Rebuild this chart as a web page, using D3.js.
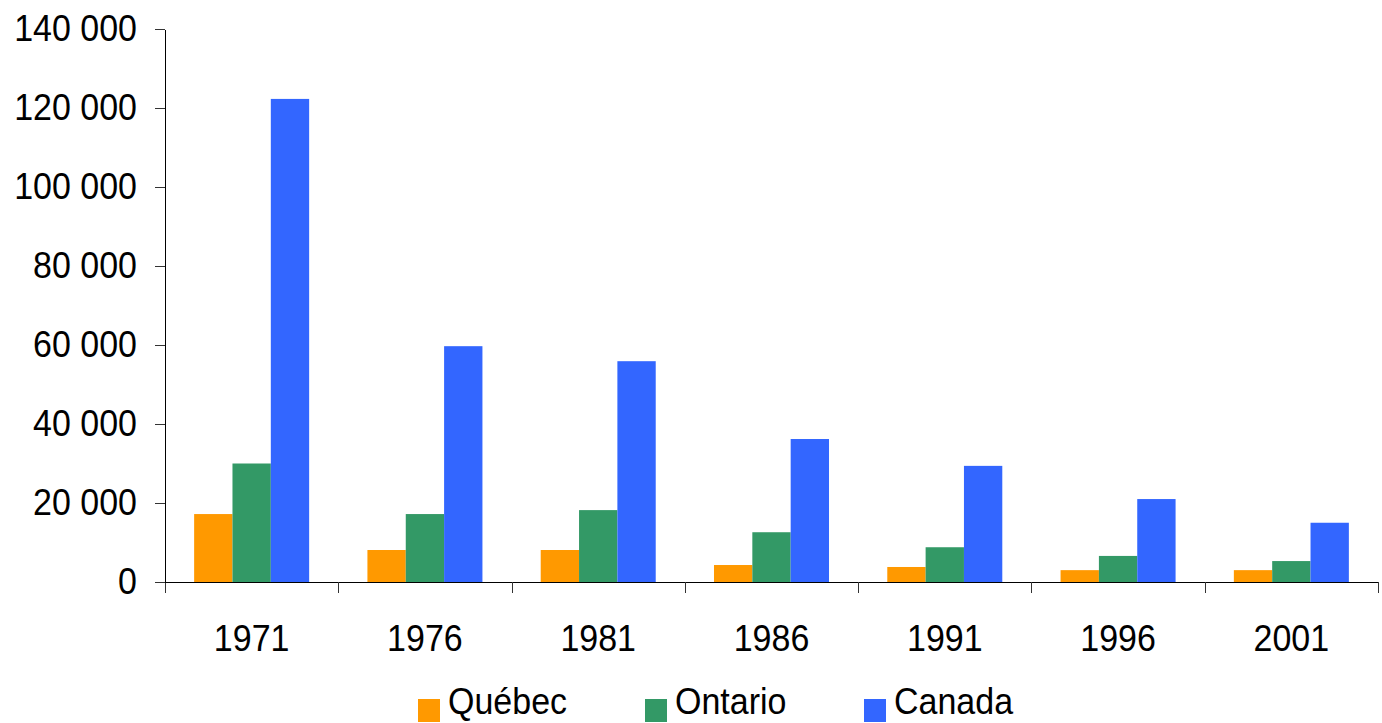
<!DOCTYPE html>
<html>
<head>
<meta charset="utf-8">
<script src="https://cdn.jsdelivr.net/npm/d3@7"></script>
<style>
  body { margin: 0; background: #fff; }
  text { font-family: "Liberation Sans", Arial, sans-serif; fill: #000; }
</style>
</head>
<body>
<div id="d3-container"></div>
<script>
const years = ["1971", "1976", "1981", "1986", "1991", "1996", "2001"];
const seriesNames = ["Québec", "Ontario", "Canada"];
const quebec = [17200, 8100, 8100, 4300, 3800, 3000, 3000];
const ontario = [30000, 17200, 18200, 12600, 8800, 6600, 5300];
const canada = [122300, 59700, 55900, 36200, 29400, 21000, 15000];
const colors = ["#FF9900", "#339966", "#3366FF"];
const yTicks = [0, 20000, 40000, 60000, 80000, 100000, 120000, 140000];

const width = 1382;
const height = 723;
const margin = { top: 29, bottom: 141, left: 165, right: 4 };
const sy = 1.11; // labels in the reference are a bit taller than wide

const values = [quebec, ontario, canada];
const data = years.map((y, i) => ({ year: y, vals: values.map(s => s[i]) }));

const svg = d3.select("#d3-container")
    .append("svg")
    .attr("width", width)
    .attr("height", height);

const x = d3.scaleBand()
    .domain(years)
    .range([margin.left, width - margin.right]);

const xs = d3.scaleBand()
    .domain(d3.range(seriesNames.length))
    .range([0, x.bandwidth()])
    .paddingOuter(0.76);

const y = d3.scaleLinear()
    .domain([0, 140000])
    .range([height - margin.bottom, margin.top]);

// bars
svg.append("g")
    .selectAll("g")
    .data(data)
    .join("g")
    .attr("transform", d => `translate(${x(d.year)},0)`)
    .selectAll("rect")
    .data(d => d.vals)
    .join("rect")
    .attr("x", (d, i) => xs(i))
    .attr("y", d => y(d))
    .attr("width", xs.bandwidth())
    .attr("height", d => y(0) - y(d))
    .attr("fill", (d, i) => colors[i]);

function yAxis(g) {
    g.attr("transform", `translate(${margin.left},0)`)
        .call(d3.axisLeft(y).tickValues(yTicks).tickSize(10).tickSizeOuter(0)
            .tickFormat(d => d3.format(",")(d).replace(/,/g, " ")))
        .call(g => g.select(".domain").attr("stroke", "#000").attr("shape-rendering", "crispEdges"))
        .call(g => g.selectAll(".tick line").attr("stroke", "#333").attr("shape-rendering", "crispEdges"))
        .call(g => g.selectAll(".tick text")
            .attr("x", 0).attr("y", 0).attr("dy", 0)
            .attr("transform", `translate(-28,11) scale(1,${sy})`)
            .attr("font-size", "34px")
            .attr("fill", "#000"));
}

function xAxis(g) {
    g.attr("transform", `translate(0,${y(0)})`)
        .call(d3.axisBottom(x).tickSize(0).tickSizeOuter(0))
        .call(g => g.select(".domain").attr("stroke", "#000").attr("shape-rendering", "crispEdges"))
        .call(g => g.selectAll(".tick text")
            .attr("x", 0).attr("y", 0).attr("dy", 0)
            .attr("transform", `translate(0,69) scale(1,${sy})`)
            .attr("font-size", "34px")
            .attr("fill", "#000"));
    // category separators
    const edges = years.map(d => x(d)).concat([x(years[years.length - 1]) + x.bandwidth()]);
    g.selectAll(".sep")
        .data(edges)
        .join("line")
        .attr("class", "sep")
        .attr("x1", d => Math.round(d) + 0.5)
        .attr("x2", d => Math.round(d) + 0.5)
        .attr("y1", 0)
        .attr("y2", 11)
        .attr("stroke", "#333");
}

svg.append("g").call(xAxis);
svg.append("g").call(yAxis);

// legend
const legendX = [418, 645, 864];
const legend = svg.append("g")
    .selectAll("g")
    .data(seriesNames)
    .join("g")
    .attr("transform", (d, i) => `translate(${legendX[i]},0)`);

legend.append("rect")
    .attr("x", 0)
    .attr("y", 699)
    .attr("width", 22)
    .attr("height", 23)
    .attr("fill", (d, i) => colors[i]);

legend.append("text")
    .attr("transform", `translate(30,714) scale(1,${sy})`)
    .attr("font-size", "34px")
    .text(d => d);
</script>
</body>
</html>
